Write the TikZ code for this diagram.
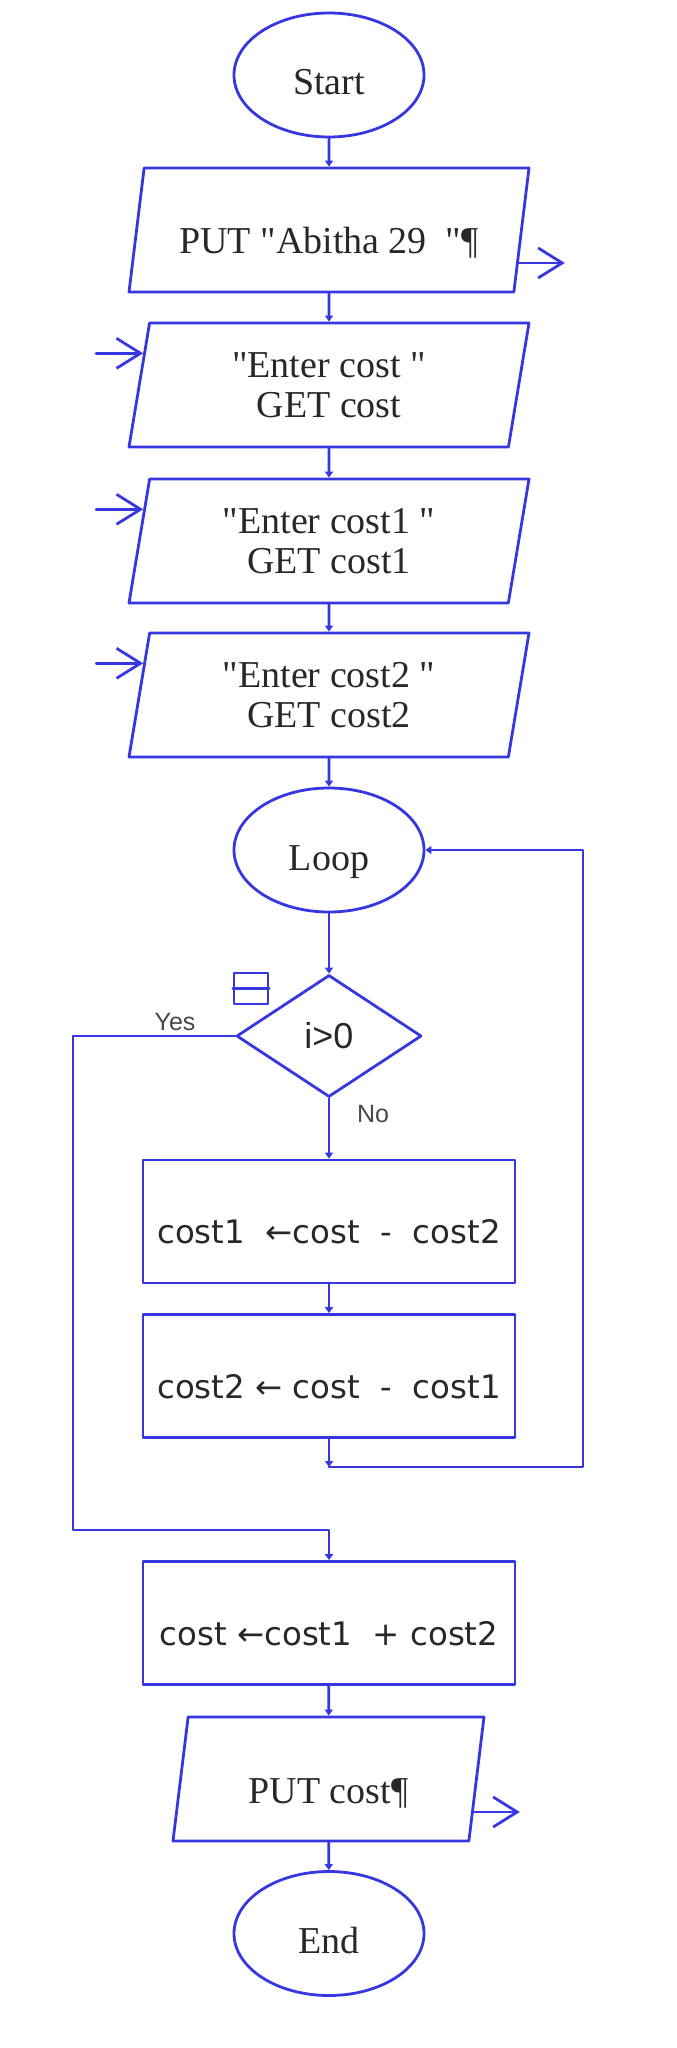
\documentclass[tikz,border=0pt]{standalone}
\usepackage{fontspec}
\setmainfont{Liberation Serif}[Ligatures=TeXOff]
\newfontfamily\calcfont{DejaVu Sans}
\newfontfamily\tagfont{Liberation Sans}
\usepackage{tikz}
\usetikzlibrary{shapes.geometric,arrows.meta,calc}
\definecolor{flowblue}{RGB}{55,55,225}
\definecolor{inkgray}{RGB}{40,40,40}
\tikzset{
  term/.style={ellipse,draw=flowblue,line width=1.4pt,minimum width=95pt,minimum height=62pt,inner sep=0pt,
    text=inkgray,font=\fontsize{19}{20}\selectfont,text height=20pt,text depth=0pt},
  inout/.style={trapezium,trapezium left angle=72.5,trapezium right angle=107.5,trapezium stretches body=true,
    draw=flowblue,line width=1.4pt,minimum width=200pt,minimum height=62pt,inner sep=0pt,
    text=inkgray,align=center,font=\fontsize{19}{20}\selectfont},
  assign/.style={rectangle,draw=flowblue,line width=1.4pt,minimum width=186pt,minimum height=61.5pt,inner sep=0pt,
    text=inkgray,font=\calcfont\fontsize{16.2}{18}\selectfont,text height=22pt,text depth=0pt},
  decide/.style={diamond,aspect=1.5,draw=flowblue,line width=1.4pt,minimum width=92.5pt,minimum height=61pt,inner sep=0pt,
    text=inkgray,font=\tagfont\fontsize{18}{19}\selectfont},
  flow/.style={draw=flowblue,line width=1.4pt,-{Triangle[length=3pt,width=4pt]}},
  io/.style={draw=flowblue,line width=1.4pt,-{Straight Barb[length=12pt,width=15pt]}},
  tag/.style={text=inkgray!85,font=\tagfont\fontsize{12.5}{13}\selectfont,inner sep=0pt}
}
\begin{document}
\begin{tikzpicture}[x=0.5pt,y=-0.5pt,line cap=round,line join=round]
\useasboundingbox (0,0) rectangle (676,2048);
% shapes
\node[term] (start) at (329,75) {Start};
\node[inout,text height=24pt,text depth=0pt] (abitha) at (329,230) {PUT "Abitha 29~ "¶};
\node[inout] (cost) at (329,385) {"Enter cost "\\GET cost};
\node[inout] (costa) at (329,541) {"Enter cost1 "\\GET cost1};
\node[inout] (costb) at (329,695) {"Enter cost2 "\\GET cost2};
\node[term] (loop) at (329,850) {Loop};
\node[decide] (test) at (329,1036) {i>0};
\node[assign] (calca) at (329,1221.5) {cost1\ \ ←cost\ \ -\ \ cost2};
\node[assign] (calcb) at (329,1376) {cost2 ←\ cost\ \ -\ \ cost1};
\node[assign] (total) at (329,1623) {cost ←cost1\ \ +\ cost2};
\node[inout,minimum width=155.5pt,text height=24pt,text depth=0pt] (show) at (328.5,1779) {PUT cost¶};
\node[term] (stop) at (329,1933.5) {End};
\node[draw=flowblue,line width=1.2pt,minimum width=17pt,minimum height=15.5pt,inner sep=0pt] (fold) at (251,988.5) {};
\draw[flowblue,line width=1.2pt] (fold.west) -- (fold.east);
% labels
\node[tag] (yes) at (175,1022) {Yes};
\node[tag] (no) at (373,1114) {No};
% main line
\draw[flow] (start) -- (abitha);
\draw[flow] (abitha) -- (cost);
\draw[flow] (cost) -- (costa);
\draw[flow] (costa) -- (costb);
\draw[flow] (costb) -- (loop);
\draw[flow] (loop) -- (test);
\draw[flow] (test) -- (calca);
\draw[flow] (calca) -- (calcb);
\draw[flow] (total) -- (show);
\draw[flow] (show) -- (stop);
% loop back
\coordinate (back) at (329,1467);
\coordinate (rightrail) at (583,1467);
\draw[flow] (calcb) -- (back);
\draw[flow] (back) -- (rightrail) |- (loop.east);
% yes branch
\coordinate (leftrail) at (73,1530);
\draw[flow] (test.west) -| (leftrail) -| (total.north);
% input and output arrows
\foreach \p in {cost,costa,costb}{
  \coordinate (\p in) at ($(\p.top left corner)!0.25!(\p.bottom left corner)$);
  \coordinate (\p from) at ($(\p in)+(-47,0)$);
  \draw[io] (\p from) -- (\p in);
}
\coordinate (abitha out) at ($(abitha.top right corner)!0.76!(abitha.bottom right corner)$);
\coordinate (abitha to) at ($(abitha out)+(46,0)$);
\draw[io] (abitha out) -- (abitha to);
\coordinate (show out) at ($(show.top right corner)!0.76!(show.bottom right corner)$);
\coordinate (show to) at ($(show out)+(46,0)$);
\draw[io] (show out) -- (show to);
\end{tikzpicture}
\end{document}
